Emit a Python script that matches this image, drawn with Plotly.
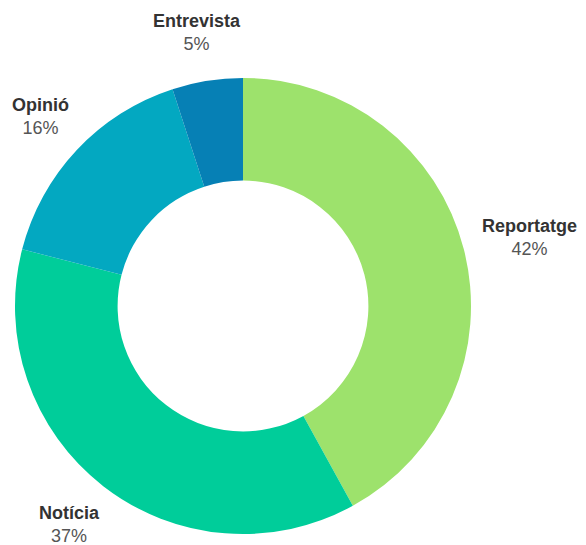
import math
import plotly.graph_objects as go

labels = ["Reportatge", "Notícia", "Opinió", "Entrevista"]
values = [42, 37, 16, 5]
colors = ["#9de26c", "#00cd9a", "#03a8c1", "#0680b5"]

FONT = "Liberation Sans, Arial, sans-serif"
fig = go.Figure(go.Pie(
    labels=labels,
    values=values,
    hole=0.55,
    sort=False,
    direction="clockwise",
    rotation=0,
    marker=dict(colors=colors, line=dict(width=0)),
    textinfo="none",
    hoverinfo="label+percent",
    showlegend=False,
    domain=dict(x=[0, 1], y=[0, 1]),
))

# Labels placed outside each slice at its mid-angle
total = sum(values)
cum = 0
k = 1.1          # label radius relative to outer radius
size = 18
line_h = 52      # approx height of two-line label box
for lab, v in zip(labels, values):
    mid = (cum + v / 2) / total * 2 * math.pi
    cum += v
    s, c = math.sin(mid), math.cos(mid)
    w = 0.5 * size * len(lab)
    pct = round(v / total * 100)
    fig.add_annotation(
        x=0.5 + 0.5 * k * s, y=0.5 + 0.5 * k * c,
        xref="paper", yref="paper",
        xanchor="center", yanchor="middle",
        xshift=s * w / 2, yshift=c * line_h / 2,
        text=f"<b>{lab}</b><br><span style='color:#555555'>{pct}%</span>",
        showarrow=False, align="center",
        font=dict(family=FONT, size=size, color="#333333"),
    )

fig.update_layout(
    width=586, height=545,
    margin=dict(l=7, r=123, t=70, b=19),
    paper_bgcolor="white",
    plot_bgcolor="white",
)

fig.write_html("out.html")
